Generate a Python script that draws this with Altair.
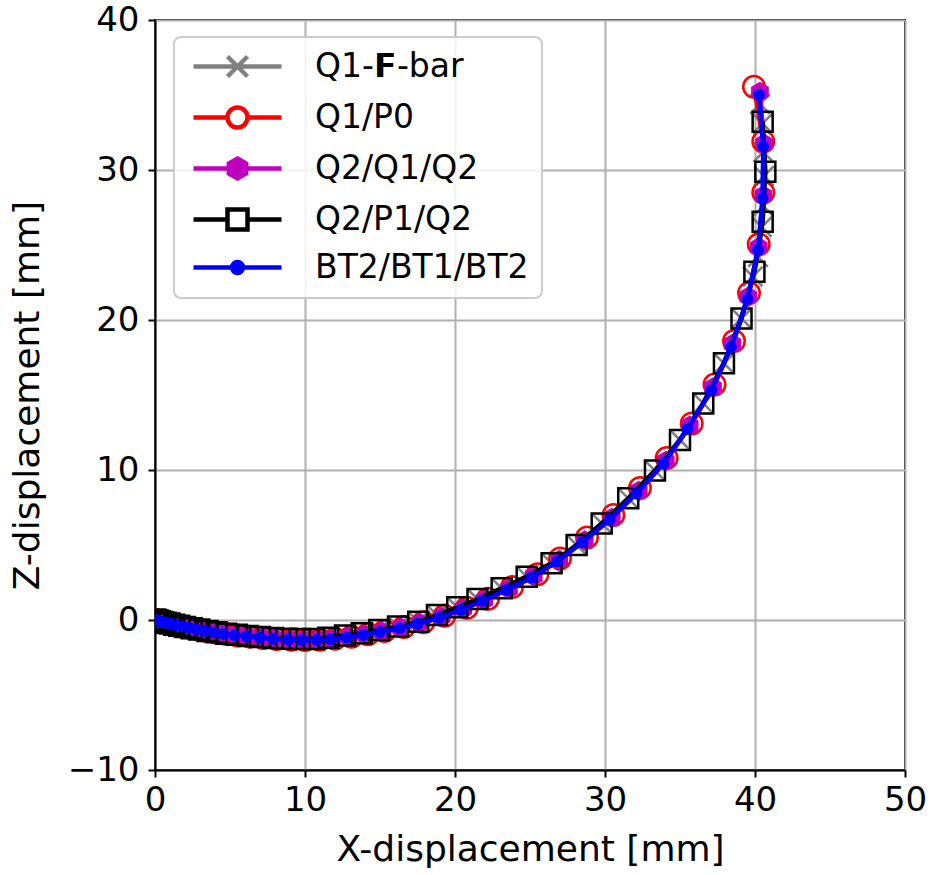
import altair as alt
import pandas as pd

# ---------------- data ----------------
names = ["Q1-𝗙-bar", "Q1/P0", "Q2/Q1/Q2", "Q2/P1/Q2", "BT2/BT1/BT2"]
colors = ["#808080", "#ff0000", "#bf00bf", "#000000", "#0000ff"]

gray_x = [0, 0.02, 0.08, 0.18, 0.32, 0.5, 0.72, 0.98, 1.28, 1.62,
          2.0, 2.45, 2.95, 3.5, 4.1, 4.75, 5.45, 6.2, 7.0, 7.85,
          8.75, 9.65, 10.6, 11.55, 12.67, 13.78, 14.95, 16.2, 17.55, 18.8,
          20.15, 21.5, 23.11, 24.78, 26.44, 28.11, 29.78, 31.55, 33.33, 35.0,
          36.55, 37.93, 39.1, 39.85, 40.2, 40.45, 40.55, 40.6, 40.55, 40.5, 40.33]
gray_z = [0.02, 0.01, -0.01, -0.04, -0.08, -0.13, -0.18, -0.24, -0.31, -0.38,
          -0.46, -0.55, -0.64, -0.73, -0.82, -0.91, -0.99, -1.07, -1.14, -1.2,
          -1.25, -1.27, -1.26, -1.18, -1.04, -0.89, -0.67, -0.44, -0.11, 0.33,
          0.85, 1.4, 2.11, 2.89, 3.78, 5.0, 6.44, 8.11, 9.96, 12.0,
          14.44, 17.11, 20.1, 22.9, 24.2, 26.2, 27.6, 29.6, 31.2, 33.1, 34.4]

red_x = [0, 0.06, 0.17, 0.33, 0.55, 0.8, 1.1, 1.5, 1.9, 2.35,
         2.9, 3.45, 4.05, 4.75, 5.5, 6.3, 7.2, 8.1, 9.1, 10.0,
         11.0, 12.0, 13.1, 14.2, 15.3, 16.6, 17.9, 19.3, 20.8, 22.2,
         23.8, 25.5, 27.0, 28.8, 30.56, 32.33, 34.11, 35.78, 37.3, 38.6,
         39.6, 40.25, 40.55, 40.55, 39.93]
red_z = [0, -0.01, -0.04, -0.09, -0.14, -0.2, -0.27, -0.36, -0.45, -0.54,
         -0.64, -0.74, -0.84, -0.94, -1.03, -1.11, -1.2, -1.27, -1.32, -1.34,
         -1.32, -1.25, -1.12, -0.95, -0.74, -0.47, -0.15, 0.28, 0.82, 1.42,
         2.2, 3.05, 4.1, 5.5, 7.0, 8.8, 10.8, 13.1, 15.7, 18.6,
         21.8, 25.05, 28.5, 31.9, 35.55]

mag_x = [0, 0.05, 0.16, 0.31, 0.52, 0.77, 1.07, 1.43, 1.83, 2.28,
         2.8, 3.35, 3.95, 4.62, 5.37, 6.17, 7.07, 7.98, 8.98, 9.88,
         10.88, 11.8, 12.9, 14.0, 15.1, 16.4, 17.65, 19.1, 20.55, 21.95,
         23.6, 25.25, 26.95, 28.65, 30.45, 32.25, 34.05, 35.65, 37.2, 38.5,
         39.55, 40.25, 40.55, 40.6, 40.33]
mag_z = [0, -0.01, -0.04, -0.08, -0.13, -0.19, -0.26, -0.34, -0.43, -0.52,
         -0.62, -0.72, -0.82, -0.92, -1.01, -1.09, -1.18, -1.25, -1.31, -1.33,
         -1.32, -1.27, -1.15, -0.98, -0.77, -0.51, -0.2, 0.2, 0.74, 1.33,
         2.08, 2.92, 4.0, 5.3, 6.8, 8.6, 10.6, 12.95, 15.5, 18.4,
         21.55, 24.85, 28.3, 31.75, 35.2]

blk_x = [0, 0.02, 0.08, 0.18, 0.32, 0.5, 0.72, 0.98, 1.28, 1.62,
         2.0, 2.45, 2.95, 3.5, 4.1, 4.75, 5.45, 6.2, 7.0, 7.85,
         8.75, 9.65, 10.6, 11.55, 12.67, 13.78, 14.95, 16.2, 17.55, 18.8,
         20.15, 21.5, 23.11, 24.78, 26.44, 28.11, 29.78, 31.55, 33.33, 35.0,
         36.55, 37.93, 39.1, 39.96, 40.51, 40.69, 40.51]
blk_z = [0.02, 0.01, -0.01, -0.04, -0.08, -0.13, -0.18, -0.24, -0.31, -0.38,
         -0.46, -0.55, -0.64, -0.73, -0.82, -0.91, -0.99, -1.07, -1.14, -1.2,
         -1.25, -1.27, -1.26, -1.18, -1.04, -0.89, -0.67, -0.44, -0.11, 0.33,
         0.85, 1.4, 2.11, 2.89, 3.78, 5.0, 6.44, 8.11, 9.96, 12.0,
         14.44, 17.11, 20.1, 23.22, 26.55, 29.89, 33.22]

blue_x = [0, 0.05, 0.15, 0.3, 0.5, 0.75, 1.05, 1.4, 1.8, 2.25,
          2.75, 3.3, 3.9, 4.55, 5.3, 6.1, 7.0, 7.9, 8.9, 9.8,
          10.8, 11.7, 12.8, 13.9, 15.0, 16.3, 17.5, 18.95, 20.4, 21.8,
          23.45, 25.1, 26.8, 28.5, 30.3, 32.1, 33.9, 35.5, 37.1, 38.4,
          39.5, 40.2, 40.5, 40.55, 40.27]
blue_z = [0, -0.01, -0.04, -0.08, -0.13, -0.19, -0.26, -0.34, -0.43, -0.52,
          -0.62, -0.72, -0.82, -0.92, -1.01, -1.09, -1.18, -1.25, -1.31, -1.34,
          -1.33, -1.28, -1.17, -1.0, -0.8, -0.55, -0.25, 0.15, 0.67, 1.27,
          2.0, 2.82, 3.89, 5.18, 6.67, 8.44, 10.42, 12.75, 15.33, 18.2,
          21.38, 24.67, 28.1, 31.55, 35.0]

x_ticks = [0, 10, 20, 30, 40, 50]
z_ticks = [-10, 0, 10, 20, 30, 40]

# ---------------- marker shapes ----------------
X_PATH = "M-1,-1L1,1M-1,1L1,-1"
HEX_PATH = "M0,-1L0.866,-0.5L0.866,0.5L0,1L-0.866,0.5L-0.866,-0.5Z"

LEG_PATHS = [
    "M-4.4,0H4.4M-1,-1L1,1M-1,1L1,-1",
    "M-4.4,0H-1M1,0H4.4M-1,0A1,1 0 1,0 1,0A1,1 0 1,0 -1,0",
    "M-4.4,0H4.4M0,-1L0.866,-0.5L0.866,0.5L0,1L-0.866,0.5L-0.866,-0.5Z",
    "M-4.4,0H-1M1,0H4.4M-1,-1H1V1H-1Z",
    "M-4.4,0H4.4M-0.55,0A0.55,0.55 0 1,0 0.55,0A0.55,0.55 0 1,0 -0.55,0",
]
LEG_FILLS = ["transparent", "transparent", "#bf00bf", "transparent", "#0000ff"]

FONT = "DejaVu Sans"

xscale = alt.Scale(domain=[0, 50], nice=False, zero=False)
zscale = alt.Scale(domain=[-10, 40], nice=False, zero=False)

xaxis = alt.Axis(values=x_ticks, title="X-displacement [mm]", titleY=79,
                 titleBaseline="middle", labelPadding=6, labelFlush=False)
zaxis = alt.Axis(values=z_ticks, title="Z-displacement [mm]", titleX=-128,
                 titleY=375, titleBaseline="middle", labelPadding=9,
                 labelFlush=False)


def frame(xs, zs):
    return pd.DataFrame({"x": xs, "z": zs, "i": list(range(len(xs)))})


def enc(ch):
    return ch.encode(
        x=alt.X("x:Q", scale=xscale, axis=xaxis),
        y=alt.Y("z:Q", scale=zscale, axis=zaxis),
        order="i:Q",
    )


series = [
    (gray_x, gray_z, dict(shape=X_PATH, filled=False, size=380, strokeWidth=2.5)),
    (red_x, red_z, dict(shape="circle", filled=False, size=460, strokeWidth=2.5)),
    (mag_x, mag_z, dict(shape=HEX_PATH, filled=True, size=420, strokeWidth=0)),
    (blk_x, blk_z, dict(shape="square", filled=False, size=400, strokeWidth=2.5)),
    (blue_x, blue_z, dict(shape="circle", filled=True, size=140, strokeWidth=0)),
]

layers = []
for (xs, zs, mk), col in zip(series, colors):
    df = frame(xs, zs)
    line = enc(alt.Chart(df).mark_line(color=col, strokeWidth=4.5, clip=True))
    pts = enc(alt.Chart(df).mark_point(color=col, opacity=1, clip=True, **mk))
    layers += [line, pts]

# legend carrier (no marks drawn, only scales -> legend)
leg = alt.Legend(symbolStrokeWidth=4.5, symbolSize=400, rowPadding=12)
leg_df = pd.DataFrame({"series": names, "x": [0.0] * 5, "z": [0.0] * 5})
legend_layer = alt.Chart(leg_df).transform_filter("false").mark_point(
    filled=False, opacity=1, strokeWidth=4.5
).encode(
    x=alt.X("x:Q", scale=xscale, axis=xaxis),
    y=alt.Y("z:Q", scale=zscale, axis=zaxis),
    stroke=alt.Stroke("series:N", title=None, legend=leg,
                      scale=alt.Scale(domain=names, range=colors)),
    fill=alt.Fill("series:N", title=None, legend=leg,
                  scale=alt.Scale(domain=names, range=LEG_FILLS)),
    shape=alt.Shape("series:N", title=None, legend=leg,
                    scale=alt.Scale(domain=names, range=LEG_PATHS)),
)

chart = alt.layer(*layers, legend_layer).properties(
    width=750, height=750,
    autosize=alt.AutoSizeParams(type="none"),
    padding={"left": 155, "top": 20, "right": 26, "bottom": 105},
).configure_view(
    stroke="black", strokeWidth=2
).configure_axis(
    grid=True, gridColor="#b0b0b0", gridWidth=2, gridOpacity=1,
    domainColor="black", domainWidth=2,
    tickColor="black", tickWidth=2, tickSize=7,
    labelFont=FONT, labelFontSize=34, labelColor="black",
    titleFont=FONT, titleFontSize=36, titleFontWeight="normal", titleColor="black",
).configure_legend(
    orient="none", legendX=19, legendY=17,
    padding=13, cornerRadius=7, strokeColor="#cccccc", strokeWidth=2,
    fillColor="rgba(255,255,255,0.85)",
    labelFont=FONT, labelFontSize=33, labelColor="black", labelLimit=500,
    symbolSize=400, symbolStrokeWidth=4.5, symbolOffset=34, labelOffset=61,
    rowPadding=12,
)

chart.save("out.html", embed_options={"renderer": "svg", "actions": False})
